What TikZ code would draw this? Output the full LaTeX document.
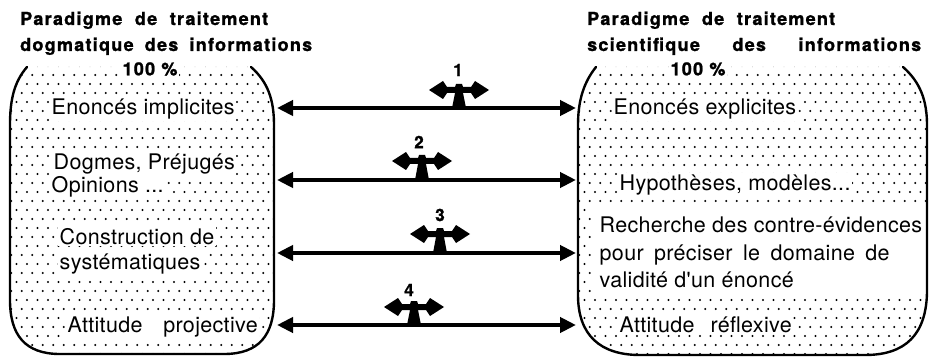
\documentclass[tikz,border=0pt]{standalone}
\usepackage{fontspec}
\setmainfont{TeX Gyre Heros}
\newfontfamily\bodyfont[LetterSpace=1.5]{TeX Gyre Heros}
\newfontfamily\headfont[LetterSpace=7, BoldFeatures={FakeBold=1.2}]{TeX Gyre Heros}
\usetikzlibrary{arrows.meta}

% outlines of the two stippled containers (open at the top)
\newcommand{\leftrim}{(27,67) .. controls (14,82) and (10,100) .. (10,125) -- (10,300) .. controls (10,335) and (25,354) .. (60,354) -- (224,354) .. controls (259,354) and (274,335) .. (274,300) -- (274,125) .. controls (274,100) and (268,82) .. (251,67)}
\newcommand{\rightrim}{(596,67) .. controls (584,82) and (578,100) .. (578,125) -- (578,295) .. controls (578,335) and (600,355) .. (640,355) -- (865,355) .. controls (905,355) and (927,335) .. (927,290) -- (927,125) .. controls (927,100) and (920,82) .. (903,67)}

\tikzset{
  shell/.style={line width=2.4pt, line cap=round},
  lbl/.style={anchor=base west, inner sep=1.5pt, fill=white, font=\bodyfont\fontsize{21.5}{26}\selectfont},
  head/.style={anchor=base west, inner sep=0pt, font=\headfont\bfseries\fontsize{18}{22}\selectfont},
  pct/.style={inner sep=2pt, fill=white, font=\headfont\bfseries\fontsize{18}{22}\selectfont},
  link/.style={line width=4pt, {Triangle[length=16pt,width=15pt]}-{Triangle[length=16pt,width=15pt]}},
  num/.style={inner sep=0pt, font=\headfont\bfseries\fontsize{17}{20}\selectfont},
  pics/swing/.style={code={
    \fill (-30,0) -- (-16,-9) -- (-12,-3) -- (-4,-3) -- (-3,-6) -- (3,-6) -- (4,-3)
      -- (12,-3) -- (16,-9) -- (30,0) -- (16,9) -- (12,3) -- (4,3) -- (7,#1) -- (-7,#1)
      -- (-4,3) -- (-12,3) -- (-16,9) -- cycle;
  }},
}

\begin{document}
\begin{tikzpicture}[x=1pt,y=-1pt]
\useasboundingbox (0,0) rectangle (931,358);

% stipple of the left container
\begin{scope}
  \clip \leftrim -- cycle;
  \foreach \r in {0,...,33}{
    \foreach \c in {0,...,27}{
      \fill ({6+10.5*\c+5.25*mod(\r,2)},{66+9*\r}) circle (1.2);
    }
  }
\end{scope}

% stipple of the right container, with the clear band behind the long text
\begin{scope}
  \clip \rightrim -- cycle;
  \foreach \r in {0,...,33}{
    \foreach \c in {0,...,34}{
      \fill ({574+10.5*\c+5.25*mod(\r,2)},{66+9*\r}) circle (1.2);
    }
  }
  \fill[white] (593,208) rectangle (930,293);
\end{scope}

\draw[shell] \leftrim;
\draw[shell] \rightrim;

% headings
\node[head] (ht1) at (20,25) {\makebox[248pt][s]{Paradigme de traitement}};
\node[head] (ht2) at (20,51) {\makebox[292pt][s]{dogmatique des informations}};
\node[head] (hs1) at (587,25) {\makebox[248pt][s]{Paradigme de traitement}};
\node[head] (hs2) at (587,51) {\makebox[334pt][s]{scientifique des informations}};

\node[pct] (pl) at (150,69) {100 \%};
\node[pct] (pr) at (698,69) {100 \%};

% statements, dogmatic side
\node[lbl] (d1) at (50,115) {Enoncés implicites};
\node[lbl] (d2a) at (52,170) {Dogmes, Préjugés};
\node[lbl] (d2b) at (50,193) {Opinions ...};
\node[lbl] (d3a) at (58,244) {Construction de};
\node[lbl] (d3b) at (58,269) {systématiques};
\node[lbl] (d4) at (66,332) {\makebox[190pt][s]{Attitude projective}};

% statements, scientific side
\node[lbl] (s1) at (612,115) {Enoncés explicites};
\node[lbl] (s2) at (618,190) {Hypothèses, modèles...};
\node[lbl,fill=none] (s3a) at (598,233) {Recherche des contre-évidences};
\node[lbl,fill=none] (s3b) at (598,260) {\makebox[290pt][s]{pour préciser le domaine de}};
\node[lbl,fill=none] (s3c) at (598,287) {validité d'un énoncé};
\node[lbl] (s4) at (618,332) {\makebox[172pt][s]{Attitude réflexive}};

% connector end points on the container rims
\coordinate (l1) at (277,108); \coordinate (r1) at (576,108);
\coordinate (l2) at (277,180); \coordinate (r2) at (576,180);
\coordinate (l3) at (277,253); \coordinate (r3) at (576,253);
\coordinate (l4) at (277,325); \coordinate (r4) at (576,325);

\draw[link] (l1) -- (r1);
\draw[link] (l2) -- (r2);
\draw[link] (l3) -- (r3);
\draw[link] (l4) -- (r4);

% two-way markers riding on each connector
\pic at (459,90) {swing=18};
\pic at (422,161) {swing=19};
\pic at (440,234) {swing=19};
\pic at (414,307) {swing=18};

\node[num] (n1) at (458,70) {1};
\node[num] (n2) at (419,142) {2};
\node[num] (n3) at (440,215) {3};
\node[num] (n4) at (409,290) {4};
\end{tikzpicture}
\end{document}
